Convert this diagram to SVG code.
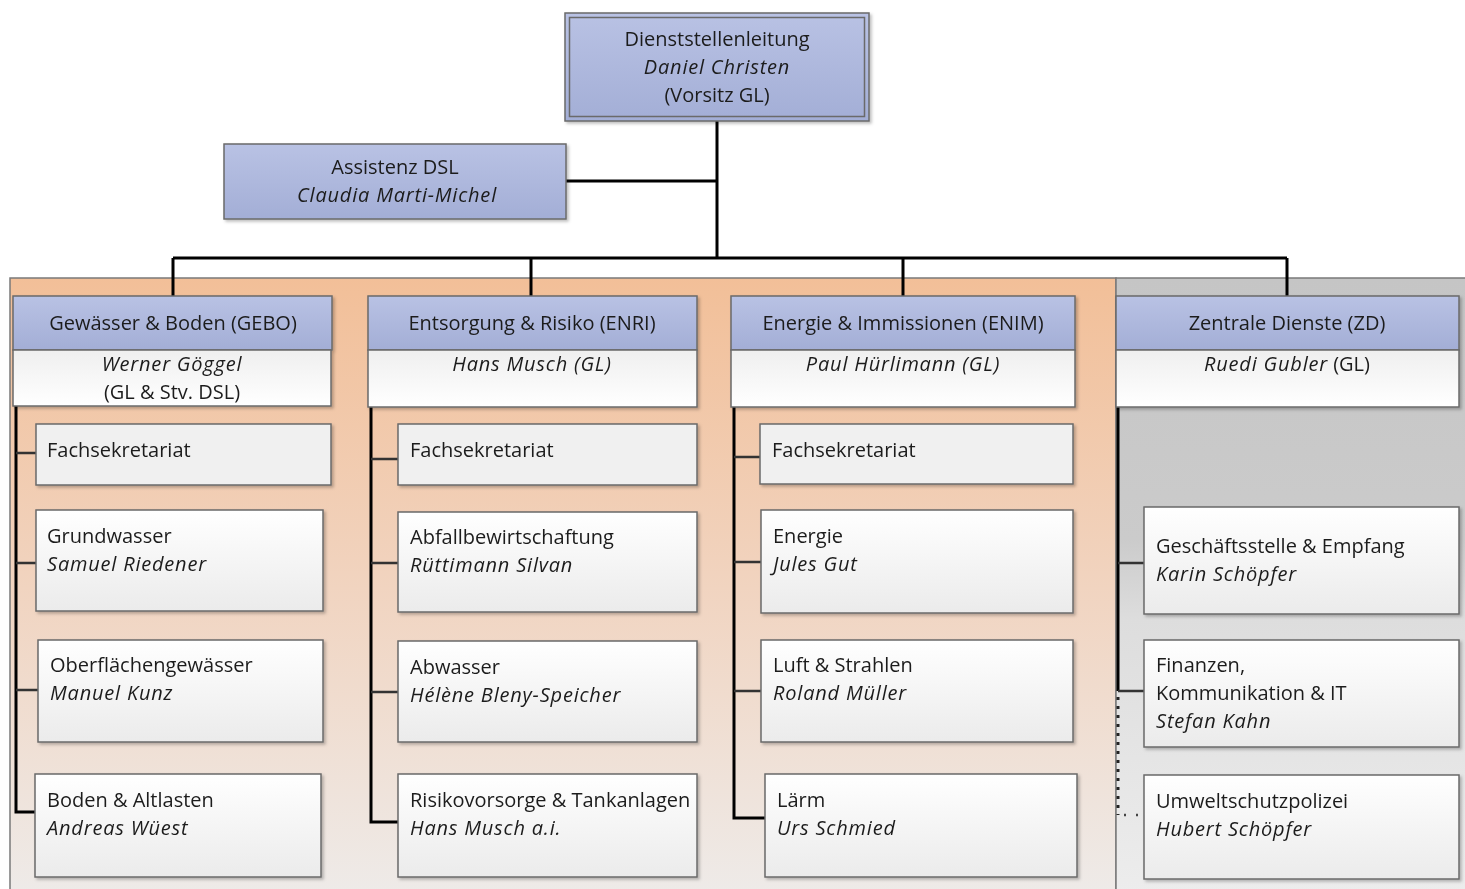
<svg xmlns="http://www.w3.org/2000/svg" width="1465" height="889" viewBox="0 0 1465 889">
<style>
.t{font-family:"Open Sans","Liberation Sans",sans-serif;font-size:20px;fill:#1c1c1c}
.c{text-anchor:middle}
.i{font-style:italic;letter-spacing:0.8px}
.blue{fill:url(#gBlue);stroke:#6a6a6a;stroke-width:1.5}
.sub{fill:url(#gSub);stroke:#6a6a6a;stroke-width:1.5}
.box{fill:url(#gBox);stroke:#6a6a6a;stroke-width:1.5}
.fs{fill:#f0f0f0;stroke:#6a6a6a;stroke-width:1.5}
.ln{fill:none;stroke:#000;stroke-width:3}
.br{fill:none;stroke:#333;stroke-width:2.5}
</style>
<defs>
<linearGradient id="gBlue" x1="0" y1="0" x2="0" y2="1"><stop offset="0" stop-color="#b9c2e4"/><stop offset="1" stop-color="#a3aed6"/></linearGradient>
<linearGradient id="gSub" x1="0" y1="0" x2="0" y2="1"><stop offset="0" stop-color="#efefef"/><stop offset="1" stop-color="#ffffff"/></linearGradient>
<linearGradient id="gBox" x1="0" y1="0" x2="0" y2="1"><stop offset="0" stop-color="#ffffff"/><stop offset="1" stop-color="#ebebeb"/></linearGradient>
<linearGradient id="gOr" x1="0" y1="0" x2="0" y2="1"><stop offset="0" stop-color="#f2bf98"/><stop offset="0.5" stop-color="#f1d4c0"/><stop offset="1" stop-color="#eeebe9"/></linearGradient>
<linearGradient id="gGr" x1="0" y1="0" x2="0" y2="1"><stop offset="0" stop-color="#c5c5c5"/><stop offset="0.42" stop-color="#cbcbcb"/><stop offset="0.55" stop-color="#dddddd"/><stop offset="1" stop-color="#ededed"/></linearGradient>
<filter id="sh" x="-5%" y="-5%" width="110%" height="120%"><feDropShadow dx="2" dy="2" stdDeviation="1.5" flood-color="#000" flood-opacity="0.25"/></filter>
</defs>

<g id="panels">
<rect x="10" y="278" width="1106" height="620" fill="url(#gOr)" stroke="#7a7a7a" stroke-width="1.5"/>
<rect x="1116" y="278" width="360" height="620" fill="url(#gGr)" stroke="#7a7a7a" stroke-width="1.5"/>
</g>

<g id="connectors">
<path class="ln" d="M717 121V258M566 181H717M173 258H1287M173 258V296M531 258V296M903 258V296M1287 258V296"/>
<path class="ln" d="M16 406V812H36"/>
<path class="br" d="M16 453H36M16 563H36M16 690H38"/>
<path class="ln" d="M371 407V822H398"/>
<path class="br" d="M371 459H398M371 563H398M371 692H398"/>
<path class="ln" d="M734 407V818H765"/>
<path class="br" d="M734 457H760M734 562H761M734 691H761"/>
<path class="ln" d="M1118 407V691"/>
<path class="br" d="M1118 563H1144M1118 691H1144"/>
<path fill="none" stroke="#222" stroke-width="3" stroke-dasharray="3 6" d="M1118 697V815"/>
<path fill="none" stroke="#444" stroke-width="2.5" stroke-dasharray="2 10" d="M1124 815H1144"/>
</g>

<g id="dsl" filter="url(#sh)">
<rect x="565" y="13" width="304" height="108" fill="url(#gBlue)" stroke="#6a6a6a" stroke-width="1.5"/>
<rect x="569.5" y="17.5" width="295" height="99" fill="none" stroke="#6a6a6a" stroke-width="1.5"/>
<text class="t c" x="717" y="46">Dienststellenleitung</text>
<text class="t c i" x="717" y="74">Daniel Christen</text>
<text class="t c" x="717" y="102">(Vorsitz GL)</text>
</g>

<g id="assistenz" filter="url(#sh)">
<rect class="blue" x="224" y="144" width="342" height="75"/>
<text class="t c" x="395" y="174">Assistenz DSL</text>
<text class="t c i" x="397" y="202">Claudia Marti-Michel</text>
</g>

<g id="gebo" filter="url(#sh)">
<rect class="blue" x="13" y="296" width="319" height="54"/>
<rect class="sub" x="13" y="350" width="318" height="56"/>
<text class="t c" x="173" y="330">Gewässer &amp; Boden (GEBO)</text>
<text class="t c i" x="172" y="371">Werner Göggel</text>
<text class="t c" x="172" y="399">(GL &amp; Stv. DSL)</text>
</g>

<g id="enri" filter="url(#sh)">
<rect class="blue" x="368" y="296" width="329" height="54"/>
<rect class="sub" x="368" y="350" width="329" height="57"/>
<text class="t c" x="532" y="330">Entsorgung &amp; Risiko (ENRI)</text>
<text class="t c i" x="532" y="371">Hans Musch (GL)</text>
</g>

<g id="enim" filter="url(#sh)">
<rect class="blue" x="731" y="296" width="344" height="54"/>
<rect class="sub" x="731" y="350" width="344" height="57"/>
<text class="t c" x="903" y="330">Energie &amp; Immissionen (ENIM)</text>
<text class="t c i" x="903" y="371">Paul Hürlimann (GL)</text>
</g>

<g id="zd" filter="url(#sh)">
<rect class="blue" x="1116" y="296" width="343" height="54"/>
<rect class="sub" x="1116" y="350" width="343" height="57"/>
<text class="t c" x="1287" y="330">Zentrale Dienste (ZD)</text>
<text class="t c" x="1287" y="371"><tspan class="i">Ruedi Gubler</tspan> (GL)</text>
</g>

<g id="gebo-fs" filter="url(#sh)"><rect class="fs" x="36" y="424" width="295" height="61"/><text class="t" x="47" y="457">Fachsekretariat</text></g>
<g id="gebo-gw" filter="url(#sh)"><rect class="box" x="36" y="510" width="287" height="101"/><text class="t" x="47" y="543">Grundwasser</text><text class="t i" x="47" y="571">Samuel Riedener</text></g>
<g id="gebo-ow" filter="url(#sh)"><rect class="box" x="38" y="640" width="285" height="102"/><text class="t" x="50" y="672">Oberflächengewässer</text><text class="t i" x="50" y="700">Manuel Kunz</text></g>
<g id="gebo-ba" filter="url(#sh)"><rect class="box" x="35" y="774" width="286" height="103"/><text class="t" x="47" y="807">Boden &amp; Altlasten</text><text class="t i" x="47" y="835">Andreas Wüest</text></g>

<g id="enri-fs" filter="url(#sh)"><rect class="fs" x="398" y="424" width="299" height="61"/><text class="t" x="410" y="457">Fachsekretariat</text></g>
<g id="enri-ab" filter="url(#sh)"><rect class="box" x="398" y="512" width="299" height="100"/><text class="t" x="410" y="544">Abfallbewirtschaftung</text><text class="t i" x="410" y="572">Rüttimann Silvan</text></g>
<g id="enri-aw" filter="url(#sh)"><rect class="box" x="398" y="641" width="299" height="101"/><text class="t" x="410" y="674">Abwasser</text><text class="t i" x="410" y="702">Hélène Bleny-Speicher</text></g>
<g id="enri-rt" filter="url(#sh)"><rect class="box" x="398" y="774" width="299" height="103"/><text class="t" x="410" y="807">Risikovorsorge &amp; Tankanlagen</text><text class="t i" x="410" y="835">Hans Musch a.i.</text></g>

<g id="enim-fs" filter="url(#sh)"><rect class="fs" x="760" y="424" width="313" height="60"/><text class="t" x="772" y="457">Fachsekretariat</text></g>
<g id="enim-en" filter="url(#sh)"><rect class="box" x="761" y="510" width="312" height="103"/><text class="t" x="773" y="543">Energie</text><text class="t i" x="773" y="571">Jules Gut</text></g>
<g id="enim-ls" filter="url(#sh)"><rect class="box" x="761" y="640" width="312" height="102"/><text class="t" x="773" y="672">Luft &amp; Strahlen</text><text class="t i" x="773" y="700">Roland Müller</text></g>
<g id="enim-la" filter="url(#sh)"><rect class="box" x="765" y="774" width="312" height="103"/><text class="t" x="777" y="807">Lärm</text><text class="t i" x="777" y="835">Urs Schmied</text></g>

<g id="zd-ge" filter="url(#sh)"><rect class="box" x="1144" y="507" width="315" height="107"/><text class="t" x="1156" y="553">Geschäftsstelle &amp; Empfang</text><text class="t i" x="1156" y="581">Karin Schöpfer</text></g>
<g id="zd-fk" filter="url(#sh)"><rect class="box" x="1144" y="640" width="315" height="107"/><text class="t" x="1156" y="672">Finanzen,</text><text class="t" x="1156" y="700">Kommunikation &amp; IT</text><text class="t i" x="1156" y="728">Stefan Kahn</text></g>
<g id="zd-up" filter="url(#sh)"><rect class="box" x="1144" y="775" width="315" height="104"/><text class="t" x="1156" y="808">Umweltschutzpolizei</text><text class="t i" x="1156" y="836">Hubert Schöpfer</text></g>
</svg>
